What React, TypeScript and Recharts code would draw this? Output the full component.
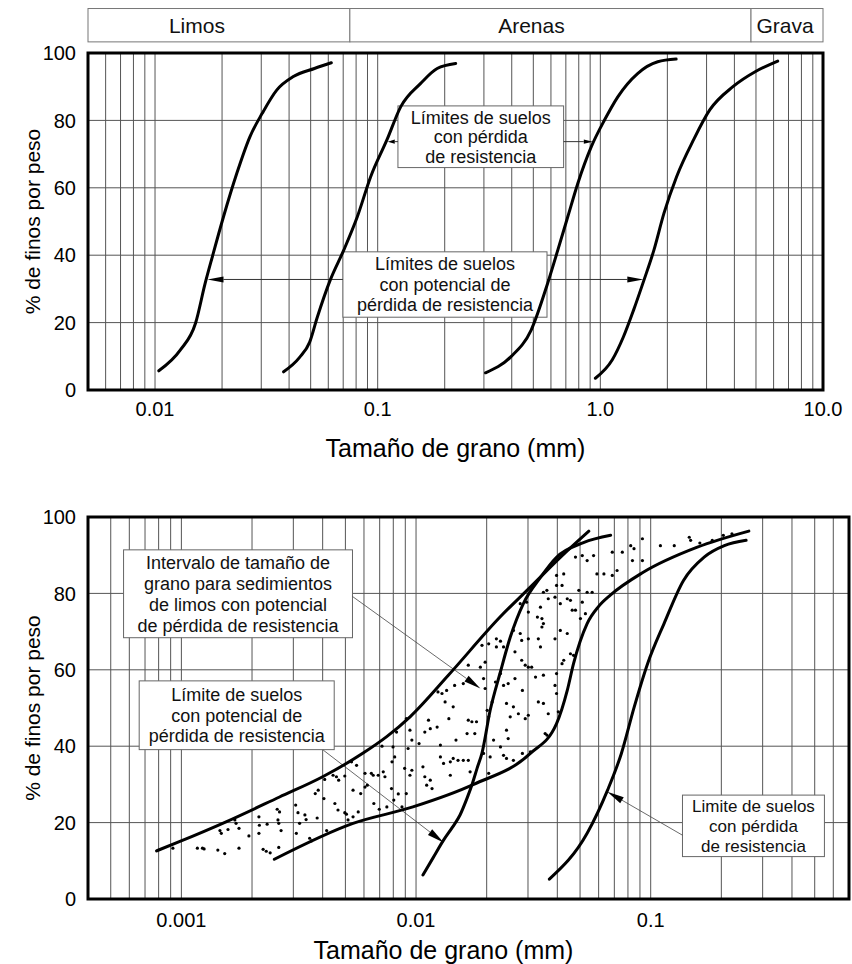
import React from 'react'
import {
  ComposedChart,
  Line,
  Scatter,
  XAxis,
  YAxis,
  CartesianGrid,
  ReferenceArea,
  ReferenceLine,
} from 'recharts'

const FONT = '"Liberation Sans", Arial, Helvetica, sans-serif'

type Pt = [number, number]
const toRows = (pts: Pt[]) => pts.map(([x, y]) => ({ x, y }))

const percentTicks = [0, 20, 40, 60, 80, 100]

// ---------- upper panel ----------
const topDomain: [number, number] = [0.005, 10]
const topGrid = [
  0.006, 0.007, 0.008, 0.009, 0.01, 0.02, 0.03, 0.04, 0.05, 0.06, 0.07, 0.08, 0.09,
  0.1, 0.2, 0.3, 0.4, 0.5, 0.6, 0.7, 0.8, 0.9, 1, 2, 3, 4, 5, 6, 7, 8, 9, 10,
]
const topLabelValues = [0.01, 0.1, 1, 10]
const topLabelText = ['0.01', '0.1', '1.0', '10.0']
const soilNames = ['Limos', 'Arenas', 'Grava']
const soilBounds = [0.005, 0.075, 4.75, 10]

// grain size (mm), % finer
const potentialFine: Pt[] = [
  [0.0104, 5.7], [0.013, 11.9], [0.0152, 19.8], [0.0168, 31.7], [0.0181, 39.6],
  [0.0203, 51.4], [0.0233, 64.3], [0.0267, 75.2], [0.0303, 82.1], [0.0352, 89],
  [0.0418, 93], [0.052, 95.4], [0.0619, 97.1],
]
const lossFine: Pt[] = [
  [0.0378, 5.4], [0.0445, 9.6], [0.0495, 14.2], [0.0535, 21.5], [0.0612, 32.6],
  [0.0704, 41.5], [0.081, 51.4], [0.093, 63.3], [0.11, 74.2], [0.127, 84.1],
  [0.156, 91], [0.185, 95.4], [0.224, 96.9],
]
const lossCoarse: Pt[] = [
  [0.305, 5.1], [0.397, 9.9], [0.489, 17.8], [0.58, 31.7], [0.644, 41.5],
  [0.714, 51.4], [0.792, 61.3], [0.911, 72.2], [1.044, 80.1], [1.198, 87],
  [1.47, 93.9], [1.81, 97.4], [2.19, 98.2],
]
const potentialCoarse: Pt[] = [
  [0.95, 3.5], [1.13, 8.9], [1.27, 15.8], [1.41, 23.7], [1.57, 32.6],
  [1.74, 41.5], [1.93, 52.4], [2.2, 63.3], [2.62, 74.2], [3.1, 83.1],
  [3.94, 90], [4.98, 94.5], [6.26, 97.6],
]

// ---------- lower panel ----------
const lowDomain: [number, number] = [0.0004, 0.7]
const lowGrid = [
  0.0005, 0.0006, 0.0007, 0.0008, 0.0009, 0.001, 0.002, 0.003, 0.004, 0.005, 0.006, 0.007,
  0.008, 0.009, 0.01, 0.02, 0.03, 0.04, 0.05, 0.06, 0.07, 0.08, 0.09, 0.1, 0.2, 0.3, 0.4,
  0.5, 0.6,
]
const lowLabelValues = [0.001, 0.01, 0.1]
const lowLabelText = ['0.001', '0.01', '0.1']

const siltUpper: Pt[] = [
  [0.000784, 12.6], [0.00098, 15], [0.00155, 20.2], [0.00262, 26.7], [0.004, 32],
  [0.00595, 38.2], [0.0075, 42.5], [0.00943, 47.7], [0.0137, 58.5], [0.0228, 73.8],
  [0.0317, 82.5], [0.0413, 89.5], [0.0545, 96.3],
]
const siltLower: Pt[] = [
  [0.00249, 10.4], [0.00539, 19.8], [0.0097, 24.1], [0.0176, 30], [0.0307, 38.1],
  [0.0397, 45.9], [0.0441, 54.6], [0.0469, 61.6], [0.0536, 72.1], [0.06, 76.6],
  [0.0675, 79.6], [0.0922, 85.4], [0.158, 92.1], [0.262, 96.3],
]
const siltPotential: Pt[] = [
  [0.0107, 6.3], [0.0118, 10.7], [0.0131, 15.4], [0.0143, 18.8], [0.0154, 22],
  [0.0165, 26.4], [0.0174, 30.3], [0.0182, 34.2], [0.0191, 38.2], [0.0207, 49.4],
  [0.0228, 59.1], [0.0252, 68.5], [0.0287, 77.4], [0.0339, 84.2], [0.0396, 89.4],
  [0.0517, 93.3], [0.0675, 95.2],
]
const siltLoss: Pt[] = [
  [0.037, 5.2], [0.0536, 17.2], [0.0655, 28.5], [0.075, 38.1], [0.0851, 50.3],
  [0.097, 61.6], [0.114, 72.1], [0.138, 83.4], [0.169, 89.5], [0.206, 92.5],
  [0.255, 93.9],
]

const siltSamples: Pt[] = [
  [0.00092, 13.3], [0.00117, 13.3], [0.00123, 13.3], [0.00125, 13.1], [0.00143, 12.8],
  [0.00153, 11.9], [0.00176, 13.3], [0.00146, 17.9], [0.00148, 17.2], [0.00158, 18.2],
  [0.00169, 20.7], [0.00171, 19.8], [0.00176, 18.5], [0.00194, 16.5], [0.00214, 21.5],
  [0.00215, 19.3], [0.00214, 17.2], [0.00232, 19.6], [0.00223, 13.0], [0.0023, 12.5],
  [0.00239, 12.1], [0.0026, 13.5], [0.00256, 23.5], [0.00262, 22.8], [0.00258, 20.7],
  [0.0026, 19.8], [0.00266, 17.9], [0.00307, 24.6], [0.00314, 22.6], [0.00319, 19.8],
  [0.00309, 17.2], [0.00336, 22.0], [0.0034, 20.8], [0.00352, 15.9], [0.00358, 15.2],
  [0.00379, 21.2], [0.00383, 28.5], [0.00372, 27.6], [0.00405, 26.3], [0.00416, 17.9],
  [0.00408, 31.3], [0.00443, 32.4], [0.00458, 32.0], [0.00468, 31.1], [0.00497, 32.2],
  [0.00451, 25.0], [0.00465, 23.3], [0.00497, 22.6], [0.00505, 22.2], [0.00513, 20.7],
  [0.00539, 21.5], [0.00539, 28.5], [0.00567, 22.8], [0.00581, 27.6], [0.00531, 35.9],
  [0.00606, 32.9], [0.0062, 29.8], [0.00645, 32.9], [0.00657, 32.4], [0.0069, 32.4],
  [0.00661, 25.0], [0.00697, 23.5], [0.00725, 33.3], [0.00737, 32.0], [0.0079, 35.9],
  [0.00811, 37.2], [0.00826, 43.7], [0.00716, 40.0], [0.00786, 28.9], [0.00804, 25.9],
  [0.0084, 27.5], [0.00871, 24.1], [0.00798, 39.8], [0.00606, 29.3], [0.00558, 35.0],
  [0.00751, 24.1],
  [0.00909, 47.2], [0.00942, 44.2], [0.0096, 41.6], [0.0103, 40.7], [0.00925, 39.4],
  [0.00894, 34.2], [0.0096, 33.7], [0.00942, 32.4], [0.00909, 27.6], [0.0107, 34.6],
  [0.0109, 32.0], [0.0111, 29.8], [0.0117, 28.9], [0.0115, 31.1], [0.0109, 43.7],
  [0.0113, 46.8], [0.0115, 44.6], [0.0123, 45.0], [0.0127, 40.3], [0.0131, 35.5],
  [0.014, 35.9], [0.0144, 36.8], [0.0151, 36.3], [0.0159, 36.3], [0.0167, 36.3],
  [0.017, 33.3], [0.014, 32.4], [0.0127, 37.2], [0.0148, 41.6], [0.0165, 43.3],
  [0.0167, 46.8], [0.0173, 46.4], [0.0181, 46.4], [0.0178, 43.3], [0.0138, 47.2],
  [0.0144, 50.3], [0.0133, 51.6], [0.0124, 54.2], [0.0129, 53.8], [0.0135, 54.6],
  [0.0146, 55.9], [0.0159, 56.4], [0.0167, 61.2], [0.0188, 60.7], [0.0191, 66.4],
  [0.0197, 62.0], [0.0194, 57.7], [0.0197, 55.1], [0.0204, 66.8], [0.022, 68.1],
  [0.0229, 67.5], [0.0236, 66.0], [0.022, 66.0], [0.0201, 49.4], [0.0204, 47.7],
  [0.0211, 51.6], [0.0218, 56.8], [0.0229, 59.0], [0.0236, 55.9], [0.0247, 56.4],
  [0.0264, 57.7], [0.0243, 51.2], [0.026, 50.3], [0.0273, 48.5], [0.0292, 47.2],
  [0.0301, 48.1], [0.0252, 47.7], [0.0243, 44.2], [0.0247, 42.0], [0.0229, 39.8],
  [0.0236, 37.6], [0.0243, 36.8], [0.026, 36.3], [0.0284, 38.1], [0.0307, 38.5],
  [0.0207, 37.2], [0.0214, 41.6], [0.0204, 32.9], [0.0194, 38.1], [0.026, 70.3],
  [0.0278, 69.5], [0.0282, 67.7], [0.0264, 64.7], [0.0301, 68.1], [0.0332, 68.1],
  [0.0339, 66.0], [0.0349, 72.1], [0.0344, 71.2], [0.0344, 73.4], [0.0391, 68.1],
  [0.0412, 70.3], [0.0441, 69.5], [0.0426, 62.5], [0.0397, 59.0], [0.0391, 55.9],
  [0.0397, 53.8], [0.0404, 49.0], [0.0366, 48.5], [0.0349, 51.2], [0.0355, 43.3],
  [0.0361, 42.9], [0.0332, 51.6], [0.0349, 58.6], [0.0323, 58.1], [0.0284, 54.6],
  [0.0292, 61.2], [0.0301, 60.7], [0.0311, 60.7], [0.0282, 62.5], [0.0278, 77.3],
  [0.0296, 77.7], [0.0301, 75.1], [0.0361, 80.8], [0.0366, 78.6], [0.0391, 79.0],
  [0.0397, 82.1], [0.0412, 77.3], [0.0441, 78.6], [0.0455, 78.2], [0.0478, 75.6],
  [0.0502, 73.4], [0.0527, 74.7], [0.0511, 77.7], [0.0494, 80.8], [0.0536, 80.3],
  [0.0563, 80.3], [0.059, 85.1], [0.0478, 89.5], [0.0511, 89.9], [0.0536, 88.6],
  [0.0571, 89.9], [0.0426, 85.1], [0.0397, 84.7], [0.0349, 80.3], [0.0339, 76.4],
  [0.0329, 73.8], [0.0419, 82.1], [0.0463, 75.6], [0.0455, 64.2], [0.0469, 63.8],
  [0.0419, 61.6],
  [0.0686, 90.8], [0.0757, 90.8], [0.0822, 92.5], [0.0849, 91.7], [0.0836, 88.6],
  [0.0922, 88.6], [0.0922, 94.3], [0.11, 92.5], [0.126, 92.5], [0.146, 94.7],
  [0.148, 93.9], [0.162, 93.2], [0.183, 93.9], [0.204, 95.2], [0.222, 95.6],
  [0.0719, 86.0], [0.0632, 85.1], [0.0686, 84.7],
]

// ---------- drawing helpers ----------
const noteBox = (lines: string[], fontSize: number, lineGap: number, stroke = '#666', shift = 0) =>
  (p: any) => {
    const cx = p.x + p.width / 2 + shift
    const first = p.y + p.height / 2 - ((lines.length - 1) * lineGap) / 2
    return (
      <g>
        <rect x={p.x} y={p.y} width={p.width} height={p.height} fill="#fff" stroke={stroke} strokeWidth={1} />
        {lines.map((t, i) => (
          <text key={i} x={cx} y={first + i * lineGap} dy="0.36em" textAnchor="middle"
            fontSize={fontSize} fontFamily={FONT} fill="#111">
            {t}
          </text>
        ))}
      </g>
    )
  }

const arrowShape = (len: number, half: number, color = '#333', width = 1) => (p: any) => {
  const { x1, y1, x2, y2 } = p
  const dx = x2 - x1
  const dy = y2 - y1
  const d = Math.hypot(dx, dy) || 1
  const ux = dx / d
  const uy = dy / d
  const bx = x2 - ux * len
  const by = y2 - uy * len
  return (
    <g>
      <line x1={x1} y1={y1} x2={bx} y2={by} stroke={color} strokeWidth={width} />
      <polygon
        points={`${x2},${y2} ${bx - uy * half},${by + ux * half} ${bx + uy * half},${by - ux * half}`}
        fill="#000"
      />
    </g>
  )
}

const frameShape = (p: any) => (
  <rect x={p.x} y={p.y} width={p.width} height={p.height} fill="none" stroke="#000" strokeWidth={3} />
)

const xTick = (values: number[], labels: string[], dy: number) => (p: any) => {
  const v = p.payload.value
  const i = values.findIndex((t) => Math.abs(t - v) / t < 1e-6)
  if (i < 0) return <g />
  return (
    <text x={p.x} y={p.y + dy} textAnchor="middle" fontSize={20} fontFamily={FONT} fill="#000">
      {labels[i]}
    </text>
  )
}

const yTick = (p: any) => (
  <text x={p.x - 12} y={p.y} dy="0.36em" textAnchor="end" fontSize={20} fontFamily={FONT} fill="#000">
    {p.payload.value}
  </text>
)

const xTitle = (dx: number, dy: number) => (p: any) => {
  const vb = p.viewBox
  return (
    <text x={vb.x + vb.width / 2 + dx} y={vb.y + dy} textAnchor="middle" fontSize={25} fontFamily={FONT} fill="#000">
      Tamaño de grano (mm)
    </text>
  )
}

const yTitle = (p: any) => {
  const vb = p.viewBox
  const cx = 40
  const cy = vb.y + vb.height / 2
  return (
    <text x={cx} y={cy} transform={`rotate(-90 ${cx} ${cy})`} textAnchor="middle" fontSize={21} fontFamily={FONT} fill="#000">
      % de finos por peso
    </text>
  )
}

const curveProps = {
  type: 'monotone' as const,
  dataKey: 'y',
  stroke: '#000',
  strokeWidth: 3,
  dot: false,
  activeDot: false,
  isAnimationActive: false,
  strokeLinecap: 'round' as const,
}

const soilLabelShift = [-22, -19, -2]

const TopChart = () => (
  <ComposedChart width={852} height={470} margin={{ top: 53, right: 29, bottom: 40, left: 28 }}>
    <CartesianGrid stroke="#555" strokeWidth={1} />
    <XAxis type="number" dataKey="x" scale="log" domain={topDomain} allowDataOverflow
      ticks={topGrid} interval={0} axisLine={false} tickLine={false} tickSize={0} tickMargin={0}
      height={40} tick={xTick(topLabelValues, topLabelText, 26)} label={{ content: xTitle(0, 67) }} />
    <YAxis type="number" dataKey="y" domain={[0, 100]} ticks={percentTicks} interval={0}
      axisLine={false} tickLine={false} tickSize={0} tickMargin={0} width={60} tick={yTick}
      label={{ content: yTitle }} />

    {soilNames.map((name, i) => (
      <ReferenceArea key={name} x1={soilBounds[i]} x2={soilBounds[i + 1]} y1={103.3} y2={113.2}
        ifOverflow="visible" shape={noteBox([name], 21, 20, '#777', soilLabelShift[i])} />
    ))}

    <ReferenceArea x1={0.1233} x2={0.684} y1={66} y2={84.3}
      shape={noteBox(['Límites de suelos', 'con pérdida', 'de resistencia'], 18, 19.5)} />
    <ReferenceArea x1={0.0698} x2={0.576} y1={21.6} y2={41}
      shape={noteBox(['Límites de suelos', 'con potencial de', 'pérdida de resistencia'], 18, 20.5)} />

    <ReferenceLine segment={[{ x: 0.1233, y: 73.7 }, { x: 0.111, y: 73.7 }]} shape={arrowShape(7, 2.2)} />
    <ReferenceLine segment={[{ x: 0.684, y: 73.7 }, { x: 0.925, y: 73.7 }]} shape={arrowShape(9, 2.2)} />
    <ReferenceLine segment={[{ x: 0.0698, y: 32.8 }, { x: 0.0172, y: 32.8 }]} shape={arrowShape(16, 3)} />
    <ReferenceLine segment={[{ x: 0.576, y: 32.8 }, { x: 1.56, y: 32.8 }]} shape={arrowShape(16, 3)} />

    <Line {...curveProps} data={toRows(potentialFine)} />
    <Line {...curveProps} data={toRows(lossFine)} />
    <Line {...curveProps} data={toRows(lossCoarse)} />
    <Line {...curveProps} data={toRows(potentialCoarse)} />

    <ReferenceArea x1={topDomain[0]} x2={topDomain[1]} y1={0} y2={100} ifOverflow="visible" shape={frameShape} />
  </ComposedChart>
)

const BottomChart = () => (
  <ComposedChart width={852} height={484} margin={{ top: 37, right: 3, bottom: 25, left: 28 }}>
    <CartesianGrid stroke="#555" strokeWidth={1} />
    <XAxis type="number" dataKey="x" scale="log" domain={lowDomain} allowDataOverflow
      ticks={lowGrid} interval={0} axisLine={false} tickLine={false} tickSize={0} tickMargin={0}
      height={40} tick={xTick(lowLabelValues, lowLabelText, 28)} label={{ content: xTitle(-25, 60) }} />
    <YAxis type="number" dataKey="y" domain={[0, 100]} ticks={percentTicks} interval={0}
      axisLine={false} tickLine={false} tickSize={0} tickMargin={0} width={60} tick={yTick}
      label={{ content: yTitle }} />

    <ReferenceArea x1={0.000567} x2={0.00536} y1={68.4} y2={91.4}
      shape={noteBox(['Intervalo de tamaño de', 'grano para sedimientos', 'de limos con potencial', 'de pérdida de resistencia'], 18, 21)} />
    <ReferenceArea x1={0.000661} x2={0.00448} y1={39.1} y2={57.1}
      shape={noteBox(['Límite de suelos', 'con potencial de', 'pérdida de resistencia'], 18, 20.5)} />
    <ReferenceArea x1={0.1366} x2={0.55} y1={11.1} y2={27.2}
      shape={noteBox(['Limite de suelos', 'con pérdida', 'de resistencia'], 17, 20)} />

    <ReferenceLine segment={[{ x: 0.00536, y: 79.2 }, { x: 0.0188, y: 55.1 }]} shape={arrowShape(17, 3.5, '#444', 0.8)} />
    <ReferenceLine segment={[{ x: 0.00402, y: 39 }, { x: 0.0131, y: 14.8 }]} shape={arrowShape(17, 3.5, '#444', 0.8)} />
    <ReferenceLine segment={[{ x: 0.1366, y: 16.7 }, { x: 0.0653, y: 28.1 }]} shape={arrowShape(17, 3.5, '#444', 0.8)} />

    <Scatter data={toRows(siltSamples)} isAnimationActive={false}
      shape={(p: any) => <circle cx={p.cx} cy={p.cy} r={1.6} fill="#000" />} />

    <Line {...curveProps} data={toRows(siltUpper)} />
    <Line {...curveProps} data={toRows(siltLower)} />
    <Line {...curveProps} data={toRows(siltPotential)} />
    <Line {...curveProps} data={toRows(siltLoss)} />

    <ReferenceArea x1={lowDomain[0]} x2={lowDomain[1]} y1={0} y2={100} ifOverflow="visible" shape={frameShape} />
  </ComposedChart>
)

export default function App() {
  return (
    <div style={{ position: 'absolute', left: 0, top: 0, width: 852, height: 964, background: '#fff' }}>
      <div style={{ position: 'absolute', left: 0, top: 0 }}>
        <TopChart />
      </div>
      <div style={{ position: 'absolute', left: 0, top: 480 }}>
        <BottomChart />
      </div>
    </div>
  )
}
